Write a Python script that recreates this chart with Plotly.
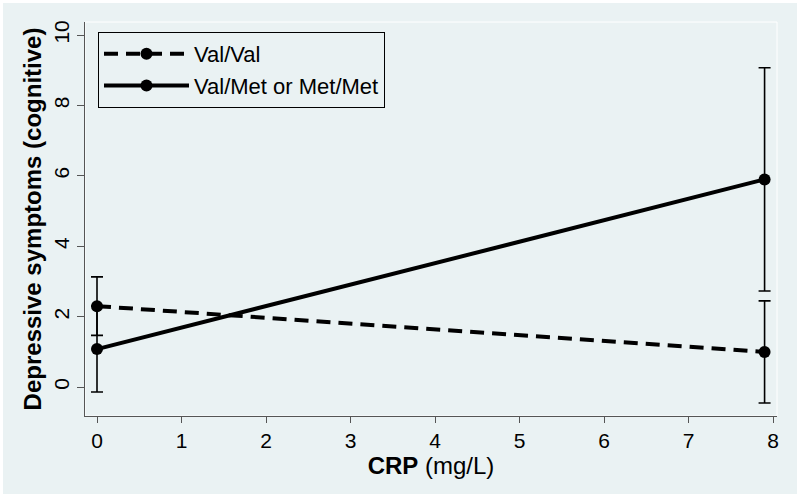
import plotly.graph_objects as go

crp = [0, 7.9]
valval = [2.30, 1.00]
valval_err = [0.83, 1.45]
valmet = [1.08, 5.90]
valmet_err = [1.22, 3.17]
series_names = ["Val/Val", "Val/Met or Met/Met"]
x_ticks = [0, 1, 2, 3, 4, 5, 6, 7, 8]
y_ticks = [0, 2, 4, 6, 8, 10]

BG = "#EAF2F3"
FONT = "Liberation Sans, Arial, Helvetica, sans-serif"

fig = go.Figure()
fig.add_trace(go.Scatter(
    x=crp, y=valval, name=series_names[0], mode="lines+markers",
    line=dict(color="black", width=4, dash="14px,8px"),
    marker=dict(color="black", size=12),
    error_y=dict(type="data", array=valval_err, visible=True, color="black", thickness=1.6, width=6),
))
fig.add_trace(go.Scatter(
    x=crp, y=valmet, name=series_names[1], mode="lines+markers",
    line=dict(color="black", width=4),
    marker=dict(color="black", size=12),
    error_y=dict(type="data", array=valmet_err, visible=True, color="black", thickness=1.6, width=6),
))

L, R, T, B = 85, 23, 22, 81
W, H = 800, 497
pw, ph = W - L - R, H - T - B

fig.update_layout(
    width=W, height=H,
    margin=dict(l=L, r=R, t=T, b=B, autoexpand=False),
    paper_bgcolor="white",
    plot_bgcolor=BG,
    font=dict(family=FONT, color="black", size=21),
    showlegend=True,
    legend=dict(
        x=(98 - L) / pw, y=(H - B - 32) / ph, xanchor="left", yanchor="top",
        bgcolor=BG, bordercolor="black", borderwidth=1,
        font=dict(size=22, family=FONT), itemwidth=85, tracegroupgap=0,
    ),
    xaxis=dict(
        range=[-0.142, 8.047], tickvals=x_ticks, showgrid=False, zeroline=False,
        showline=True, linecolor="#555", linewidth=1.2, automargin=False,
        ticks="outside", ticklen=6, tickcolor="#555", tickwidth=1.2,
        tickfont=dict(size=21),
        title=dict(text="<b>CRP</b> (mg/L)", font=dict(size=24), standoff=2),
    ),
    yaxis=dict(
        range=[-0.82, 10.37], tickvals=y_ticks, showgrid=False, zeroline=False,
        showline=True, linecolor="#555", linewidth=1.2, automargin=False,
        ticks="outside", ticklen=7, tickcolor="#555", tickwidth=1.2,
        tickangle=-90, tickfont=dict(size=21),
        title=dict(text="<b>Depressive symptoms (cognitive)</b>", font=dict(size=24), standoff=1),
    ),
    shapes=[
        dict(type="rect", xref="paper", yref="paper",
             x0=-(L - 3) / pw, x1=1 + (R - 3) / pw, y0=-(B - 3) / ph, y1=1 + (T - 3) / ph,
             fillcolor=BG, line=dict(width=0), layer="below"),
        dict(type="rect", xref="paper", yref="paper", x0=0, x1=1, y0=0, y1=1,
             line=dict(color="white", width=1), layer="below"),
    ],
)

fig.write_html("out.html", config={"displayModeBar": False},
               post_script="document.body.style.margin='0';document.body.style.overflow='hidden';")
